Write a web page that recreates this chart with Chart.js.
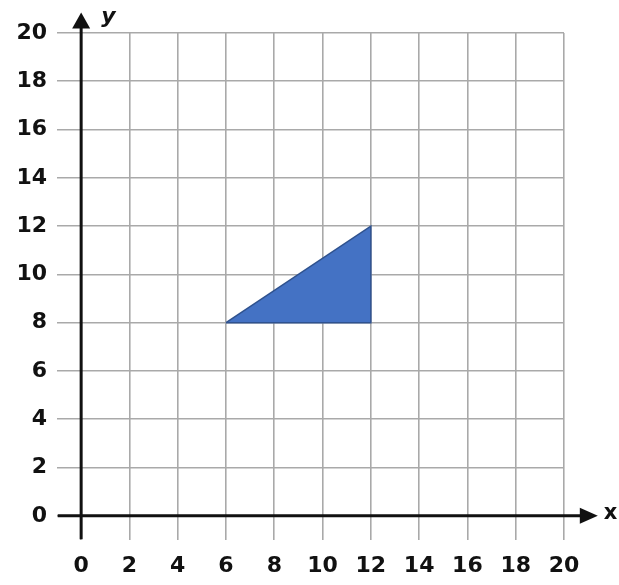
<!DOCTYPE html>
<html>
<head>
<meta charset="utf-8">
<script src="https://cdn.jsdelivr.net/npm/chart.js@4"></script>
<style>
  html, body { margin: 0; padding: 0; background: #fff; }
  #wrap { width: 619px; height: 585px; }
</style>
</head>
<body>
<div id="wrap"><canvas id="canvas"></canvas></div>
<script>
// tick values on both axes
const xTicks = [0, 2, 4, 6, 8, 10, 12, 14, 16, 18, 20];
const yTicks = [0, 2, 4, 6, 8, 10, 12, 14, 16, 18, 20];

// triangle corners, closed back to the first one
const triangleX = [6, 12, 12, 6];
const triangleY = [8, 8, 12, 8];

const labelFont = { family: "DejaVu Sans", size: 22, weight: "bold" };
const ink = "#111";

// draws the two black axes with arrow heads and the x / y names
const axesPlugin = {
    id: "axesArrows",
    afterDatasetsDraw(chart) {
        const ctx = chart.ctx;
        const xs = chart.scales.x;
        const ys = chart.scales.y;
        const x0 = xs.getPixelForValue(0);
        const y0 = ys.getPixelForValue(0);
        const xStart = xs.getPixelForValue(-0.97);
        const xEnd = xs.getPixelForValue(21.4);
        const yStart = ys.getPixelForValue(-0.97);
        const yEnd = ys.getPixelForValue(20.85);

        ctx.save();
        ctx.strokeStyle = ink;
        ctx.fillStyle = ink;
        ctx.lineWidth = 3;

        ctx.beginPath();
        ctx.moveTo(xStart, y0);
        ctx.lineTo(xEnd - 14, y0);
        ctx.moveTo(x0, yStart);
        ctx.lineTo(x0, yEnd + 12);
        ctx.stroke();

        // x arrow
        ctx.beginPath();
        ctx.moveTo(xEnd, y0);
        ctx.lineTo(xEnd - 18, y0 - 8);
        ctx.lineTo(xEnd - 18, y0 + 8);
        ctx.closePath();
        ctx.fill();

        // y arrow
        ctx.beginPath();
        ctx.moveTo(x0, yEnd);
        ctx.lineTo(x0 - 9, yEnd + 16);
        ctx.lineTo(x0 + 9, yEnd + 16);
        ctx.closePath();
        ctx.fill();

        ctx.textBaseline = "middle";
        ctx.textAlign = "left";
        ctx.font = "bold 21px 'DejaVu Sans'";
        ctx.fillText("x", xEnd + 6, y0 - 2);
        ctx.font = "italic bold 22px 'DejaVu Sans'";
        ctx.fillText("y", x0 + 20, yEnd + 5);
        ctx.restore();
    }
};

const ctx = document.getElementById("canvas").getContext("2d");

new Chart(ctx, {
    type: "scatter",
    data: {
        datasets: [{
            data: triangleX.map((x, i) => ({ x: x, y: triangleY[i] })),
            showLine: true,
            fill: "shape",
            backgroundColor: "#4472c4",
            borderColor: "#2f528f",
            borderWidth: 1.5,
            pointRadius: 0,
            tension: 0
        }]
    },
    options: {
        responsive: true,
        maintainAspectRatio: false,
        animation: false,
        events: [],
        layout: { padding: { left: 0, top: 33, right: 55, bottom: 0 } },
        plugins: {
            legend: { display: false },
            tooltip: { enabled: false }
        },
        scales: {
            x: {
                type: "linear",
                min: -1,
                max: 20,
                afterBuildTicks: s => { s.ticks = xTicks.map(v => ({ value: v })); },
                afterFit: s => { s.height = 45; },
                ticks: { color: ink, font: labelFont, padding: 13, autoSkip: false, maxRotation: 0 },
                grid: { color: "#a9a9a9", lineWidth: 1.6, drawTicks: false },
                border: { display: false }
            },
            y: {
                type: "linear",
                min: -1,
                max: 20,
                afterBuildTicks: s => { s.ticks = yTicks.map(v => ({ value: v })); },
                afterFit: s => { s.width = 57; },
                ticks: { color: ink, font: labelFont, padding: 10, autoSkip: false },
                grid: { color: "#a9a9a9", lineWidth: 1.6, drawTicks: false },
                border: { display: false }
            }
        }
    },
    plugins: [axesPlugin]
});
</script>
</body>
</html>
